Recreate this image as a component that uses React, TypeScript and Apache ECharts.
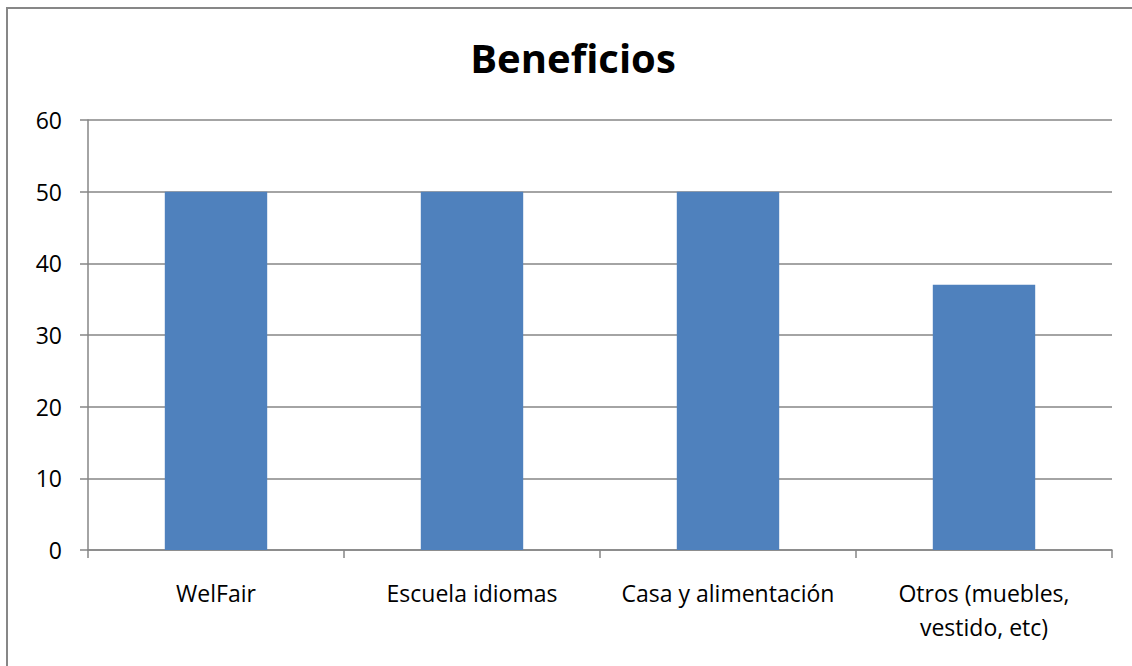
import React, { useEffect, useRef } from "react";
import * as echarts from "echarts";

const categories = ["WelFair", "Escuela idiomas", "Casa y alimentación", "Otros (muebles,\nvestido, etc)"];
const values = [50, 50, 50, 37];
const titleText = "Beneficios";

export default function App() {
  const ref = useRef<HTMLDivElement>(null);
  useEffect(() => {
    if (!ref.current) return;
    const chart = echarts.init(ref.current, null, { renderer: "svg" });
    const font = "'Open Sans', sans-serif";
    chart.setOption({
      animation: false,
      backgroundColor: "#ffffff",
      title: {
        text: titleText,
        left: 568,
        top: 32,
        textAlign: "center",
        textStyle: { fontFamily: font, fontSize: 40, fontWeight: "bold", color: "#000" },
      },
      graphic: [
        {
          type: "rect",
          shape: { x: 7, y: 8, width: 1140, height: 680 },
          style: { fill: "none", stroke: "#878787", lineWidth: 2 },
          silent: true,
        },
      ],
      grid: { left: 88, right: 20, top: 120, bottom: 116, containLabel: false },
      xAxis: {
        type: "category",
        data: categories,
        axisLine: { lineStyle: { color: "#868686", width: 1.5 } },
        axisTick: { show: true, interval: 0, length: 8, lineStyle: { color: "#868686", width: 1.5 } },
        axisLabel: { interval: 0, fontFamily: font, fontSize: 23, color: "#000", margin: 26, lineHeight: 34 },
      },
      yAxis: {
        type: "value",
        min: 0,
        max: 60,
        interval: 10,
        axisLine: { show: true, lineStyle: { color: "#868686", width: 1.5 } },
        axisTick: { show: true, length: 8, lineStyle: { color: "#868686", width: 1.5 } },
        axisLabel: { fontFamily: font, fontSize: 23, color: "#000", margin: 26 },
        splitLine: { lineStyle: { color: "#868686", width: 1.5 } },
      },
      series: [
        {
          type: "bar",
          data: values,
          barWidth: "40%",
          itemStyle: { color: "#4F81BD" },
        },
      ],
    });
    return () => chart.dispose();
  }, []);
  return (
    <div
      ref={ref}
      style={{ position: "fixed", left: 0, top: 0, width: 1132, height: 666 }}
    />
  );
}
